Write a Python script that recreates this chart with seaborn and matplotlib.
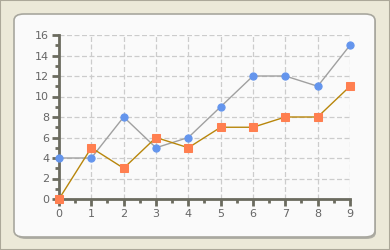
import matplotlib
matplotlib.use("Agg")
import matplotlib.pyplot as plt
from matplotlib.patches import FancyBboxPatch, Rectangle
from matplotlib.ticker import MultipleLocator
import seaborn as sns
import pandas as pd

x_vals = [0, 1, 2, 3, 4, 5, 6, 7, 8, 9]
series_a = [4, 4, 8, 5, 6, 9, 12, 12, 11, 15]
series_b = [0, 5, 3, 6, 5, 7, 7, 8, 8, 11]
x_ticks = list(range(0, 10))
y_ticks = list(range(0, 17, 2))

sns.set_style("white")
plt.rcParams['font.family'] = ['DejaVu Sans']

W, H = 390, 250
fig = plt.figure(figsize=(W / 100, H / 100), dpi=100)
fig.patch.set_facecolor("#ECE9D8")

# outer border lines
fig.add_artist(Rectangle((0, 0), 1, 1, transform=fig.transFigure, fill=False,
                         edgecolor="#ACA899", linewidth=1.5))


def fx(px):
    return px / W


def fy(py):
    return 1 - py / H


shadow = FancyBboxPatch((fx(16), fy(239)), fx(376 - 16), (239 - 16) / H,
                        boxstyle=f"round,pad=0,rounding_size={10 / W}",
                        transform=fig.transFigure, facecolor="#B0AFA6",
                        edgecolor="none", zorder=0)
fig.add_artist(shadow)
panel = FancyBboxPatch((fx(14), fy(237)), fx(375 - 14), (237 - 14) / H,
                       boxstyle=f"round,pad=0,rounding_size={10 / W}",
                       transform=fig.transFigure, facecolor="#FAFAFA",
                       edgecolor="#A8A79E", linewidth=1.2, zorder=1)
fig.add_artist(panel)

ax = fig.add_axes([fx(59), fy(199), fx(350 - 59), (199 - 35) / H])
ax.set_zorder(2)
ax.patch.set_alpha(0)

df = pd.DataFrame({"x": x_vals, "a": series_a, "b": series_b})

sns.lineplot(data=df, x="x", y="a", ax=ax, color="#A0A0A0", linewidth=1.0,
             marker="o", markersize=5.2, markerfacecolor="#6495ED",
             markeredgecolor="#6495ED", clip_on=False, zorder=3)
sns.lineplot(data=df, x="x", y="b", ax=ax, color="#B8860B", linewidth=1.0,
             marker="s", markersize=5.2, markerfacecolor="#FF7F50",
             markeredgecolor="#FF7F50", clip_on=False, zorder=4)

ax.set_xlim(0, 9)
ax.set_ylim(0, 16)
ax.set_xticks(x_ticks)
ax.set_yticks(y_ticks)
ax.set_xticklabels([str(v) for v in x_ticks])
ax.set_yticklabels([str(v) for v in y_ticks])
ax.xaxis.set_minor_locator(MultipleLocator(0.5))
ax.yaxis.set_minor_locator(MultipleLocator(1))
ax.set_xlabel("")
ax.set_ylabel("")

ax.grid(True, which="major", color="#CCCCCC", linestyle=(0, (4, 2)), linewidth=0.9)
ax.set_axisbelow(True)

for s in ["top", "right"]:
    ax.spines[s].set_visible(False)
for s in ["left", "bottom"]:
    ax.spines[s].set_color("#6B6B5F")
    ax.spines[s].set_linewidth(2.0)

ax.tick_params(axis="both", which="major", direction="out", length=5, width=2,
               color="#6B6B5F", labelsize=8, labelcolor="#666666", pad=2,
               left=True, bottom=True)
ax.tick_params(axis="both", which="minor", direction="out", length=3, width=2,
               color="#6B6B5F", left=True, bottom=True)

fig.savefig("out.png", dpi=100, facecolor=fig.get_facecolor())
